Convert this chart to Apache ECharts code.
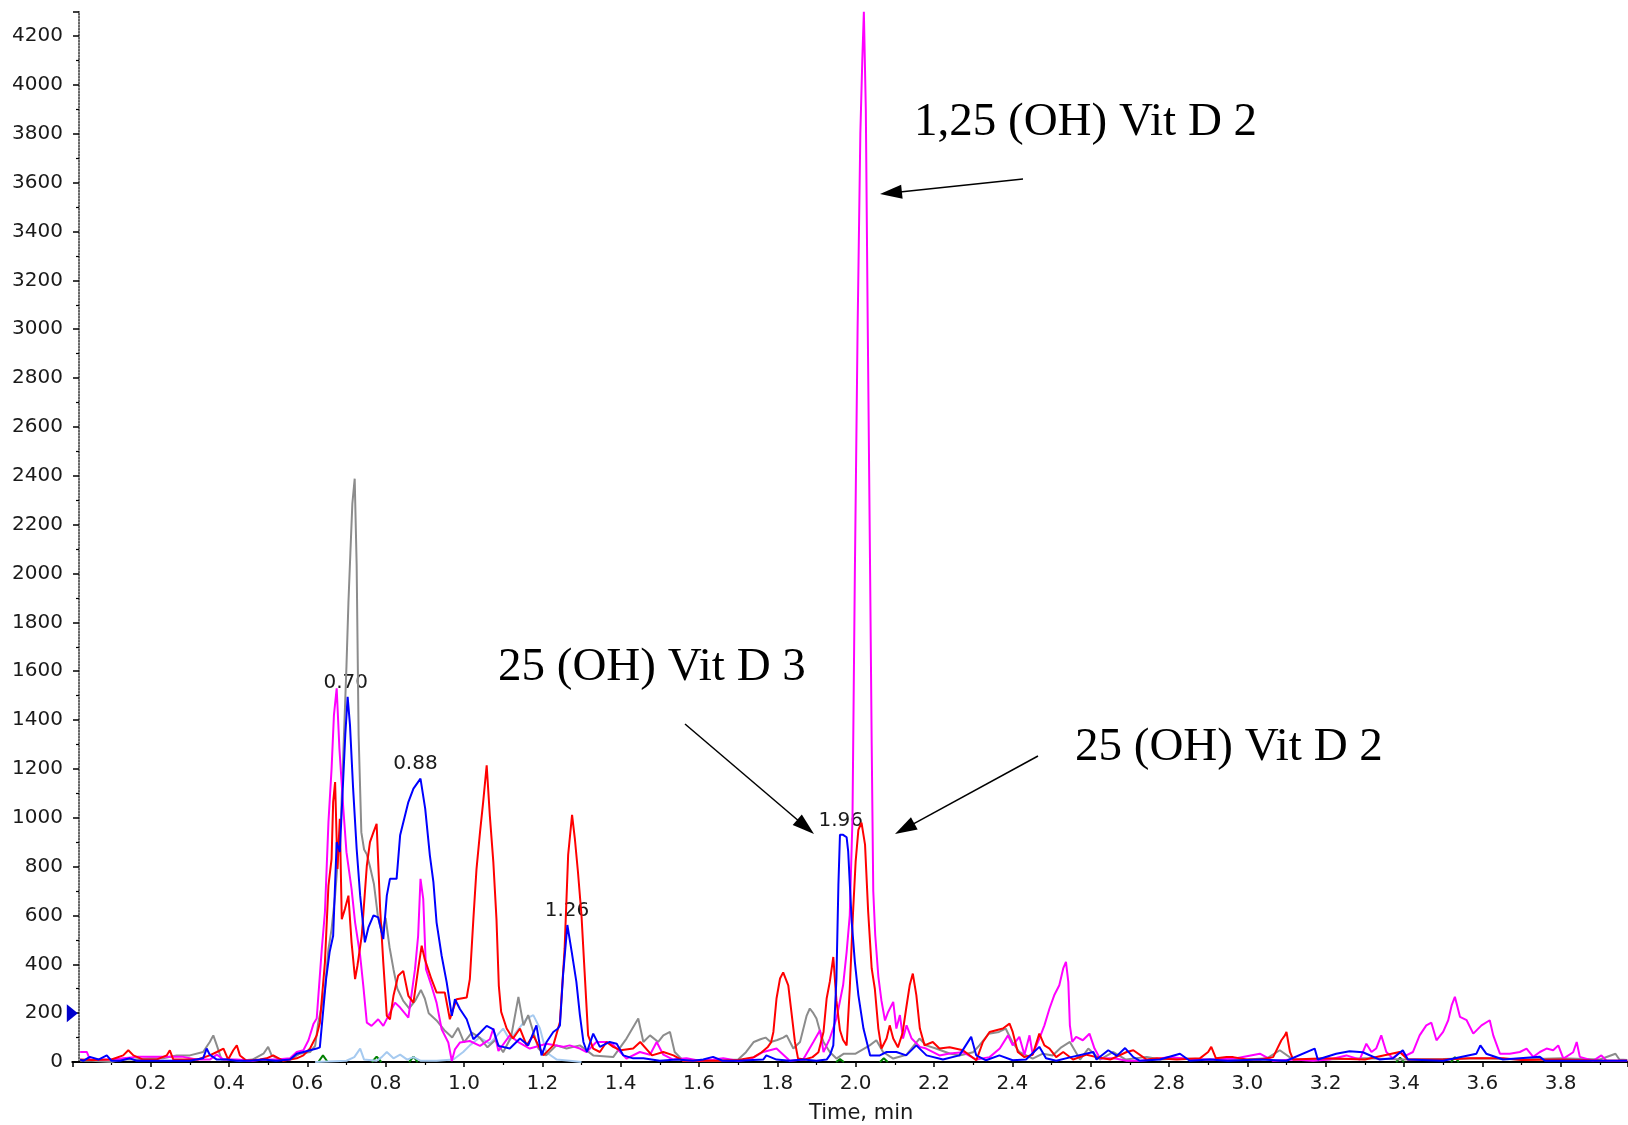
<!DOCTYPE html>
<html>
<head>
<meta charset="utf-8">
<script src="https://cdn.jsdelivr.net/npm/echarts@6/dist/echarts.min.js"></script>
<style>
  html, body { margin: 0; background: #fff; }
  #chart { width: 1628px; height: 1125px; }
</style>
</head>
<body>
<div id="chart"></div>
<script>
// traces, [time (min), intensity]
var grayTrace = [[0.02,5],[0.05,5],[0.1,0],[0.122,10],[0.16,10],[0.198,15],[0.232,15],[0.266,27],[0.3,27],[0.334,41],[0.351,82],[0.36,109],[0.369,68],[0.381,10],[0.403,10],[0.428,5],[0.46,10],[0.488,34],[0.5,62],[0.509,27],[0.53,10],[0.556,10],[0.581,34],[0.607,41],[0.62,66],[0.628,161],[0.637,230],[0.645,298],[0.654,462],[0.662,544],[0.671,681],[0.679,850],[0.686,1000],[0.693,1310],[0.7,1620],[0.705,1880],[0.71,2085],[0.715,2285],[0.721,2388],[0.726,2035],[0.731,1340],[0.738,940],[0.745,870],[0.752,850],[0.76,800],[0.77,730],[0.78,600],[0.79,530],[0.8,590],[0.81,470],[0.82,380],[0.83,300],[0.845,250],[0.86,220],[0.875,250],[0.89,295],[0.9,260],[0.91,200],[0.93,170],[0.95,130],[0.97,100],[0.985,140],[1.0,80],[1.02,120],[1.04,100],[1.06,60],[1.08,90],[1.1,40],[1.12,100],[1.139,266],[1.152,150],[1.164,192],[1.177,123],[1.19,55],[1.21,27],[1.236,68],[1.262,55],[1.296,68],[1.33,27],[1.381,20],[1.415,96],[1.445,178],[1.458,82],[1.475,109],[1.496,82],[1.509,109],[1.526,123],[1.538,41],[1.56,5],[1.6,5],[1.65,5],[1.7,10],[1.72,40],[1.74,82],[1.757,93],[1.77,100],[1.783,82],[1.8,90],[1.815,100],[1.824,109],[1.841,55],[1.858,82],[1.875,190],[1.883,219],[1.892,200],[1.9,178],[1.91,120],[1.918,82],[1.934,41],[1.951,14],[1.97,34],[2.0,34],[2.036,68],[2.053,89],[2.07,41],[2.096,14],[2.13,30],[2.163,96],[2.18,68],[2.205,55],[2.24,35],[2.265,27],[2.3,40],[2.316,68],[2.34,116],[2.366,123],[2.383,137],[2.4,82],[2.418,41],[2.452,14],[2.478,34],[2.503,27],[2.525,60],[2.547,82],[2.573,10],[2.594,55],[2.624,10],[2.658,41],[2.69,10],[2.743,21],[2.78,10],[2.83,15],[2.9,10],[2.95,12],[3.0,10],[3.05,15],[3.083,48],[3.117,10],[3.2,10],[3.3,15],[3.4,10],[3.5,12],[3.6,15],[3.7,10],[3.8,15],[3.9,10],[3.94,34],[3.95,10],[3.97,8]];

var redTrace = [[0.02,10],[0.05,8],[0.1,10],[0.13,27],[0.143,48],[0.156,27],[0.181,10],[0.215,10],[0.241,27],[0.249,48],[0.258,10],[0.283,10],[0.32,10],[0.351,27],[0.369,41],[0.386,55],[0.398,10],[0.411,48],[0.42,68],[0.428,27],[0.445,5],[0.479,10],[0.496,15],[0.513,27],[0.539,5],[0.573,15],[0.59,27],[0.607,55],[0.624,109],[0.632,160],[0.645,408],[0.654,722],[0.662,832],[0.666,1064],[0.671,1146],[0.677,790],[0.683,996],[0.688,585],[0.696,626],[0.705,681],[0.713,490],[0.722,339],[0.728,394],[0.739,517],[0.752,804],[0.76,900],[0.769,941],[0.777,975],[0.786,626],[0.794,408],[0.803,189],[0.811,175],[0.82,271],[0.832,353],[0.845,373],[0.858,271],[0.871,243],[0.883,380],[0.892,476],[0.9,421],[0.917,339],[0.93,285],[0.951,285],[0.964,175],[0.981,257],[1.007,264],[1.015,339],[1.024,585],[1.032,790],[1.041,941],[1.049,1064],[1.058,1215],[1.066,1010],[1.075,818],[1.083,585],[1.089,312],[1.095,205],[1.109,137],[1.125,96],[1.143,137],[1.16,68],[1.177,109],[1.203,27],[1.228,68],[1.245,164],[1.257,465],[1.266,848],[1.276,1012],[1.283,916],[1.291,779],[1.3,602],[1.308,369],[1.317,109],[1.33,55],[1.347,41],[1.364,82],[1.381,62],[1.4,48],[1.432,55],[1.45,82],[1.48,27],[1.509,41],[1.535,27],[1.56,5],[1.6,5],[1.65,5],[1.7,8],[1.74,20],[1.76,40],[1.775,60],[1.784,80],[1.79,123],[1.798,260],[1.807,342],[1.815,367],[1.828,314],[1.836,205],[1.845,82],[1.853,14],[1.87,10],[1.89,20],[1.905,40],[1.918,123],[1.926,260],[1.934,328],[1.943,430],[1.951,250],[1.96,130],[1.968,90],[1.977,68],[1.985,300],[1.993,600],[2.0,820],[2.007,950],[2.015,980],[2.024,890],[2.032,615],[2.041,383],[2.049,300],[2.058,137],[2.066,55],[2.079,96],[2.087,150],[2.096,96],[2.108,60],[2.12,120],[2.129,219],[2.138,314],[2.146,362],[2.155,274],[2.164,137],[2.176,68],[2.197,82],[2.214,55],[2.24,60],[2.274,48],[2.308,7],[2.325,82],[2.342,123],[2.359,130],[2.376,137],[2.393,157],[2.401,123],[2.414,41],[2.431,20],[2.452,30],[2.469,116],[2.482,68],[2.495,55],[2.512,20],[2.53,41],[2.555,10],[2.59,30],[2.615,20],[2.65,10],[2.692,41],[2.709,48],[2.743,10],[2.769,15],[2.82,10],[2.879,15],[2.9,41],[2.908,62],[2.92,15],[2.947,20],[2.964,20],[2.998,10],[3.032,10],[3.066,20],[3.087,89],[3.096,109],[3.1,123],[3.109,41],[3.117,10],[3.2,15],[3.3,10],[3.389,41],[3.41,10],[3.5,10],[3.568,15],[3.653,15],[3.7,8],[3.8,10],[3.9,5],[3.97,5]];

var blueTrace = [[0.02,10],[0.028,5],[0.045,21],[0.067,10],[0.088,27],[0.1,5],[0.122,5],[0.147,15],[0.164,5],[0.207,5],[0.249,5],[0.3,5],[0.334,15],[0.343,55],[0.351,30],[0.369,10],[0.394,10],[0.42,5],[0.454,5],[0.488,10],[0.52,5],[0.556,10],[0.573,34],[0.59,41],[0.607,48],[0.624,55],[0.632,60],[0.64,200],[0.648,340],[0.657,450],[0.666,517],[0.675,900],[0.683,860],[0.69,1100],[0.697,1340],[0.703,1495],[0.709,1379],[0.717,1119],[0.726,873],[0.735,681],[0.747,490],[0.756,551],[0.769,600],[0.781,592],[0.794,503],[0.803,681],[0.811,750],[0.828,750],[0.837,928],[0.858,1064],[0.871,1119],[0.889,1160],[0.901,1037],[0.913,845],[0.922,736],[0.93,572],[0.943,435],[0.956,325],[0.969,189],[0.977,257],[0.99,216],[1.007,175],[1.024,93],[1.041,120],[1.058,148],[1.075,134],[1.088,66],[1.092,62],[1.117,55],[1.143,96],[1.164,68],[1.185,150],[1.198,27],[1.211,82],[1.228,123],[1.24,137],[1.245,150],[1.253,356],[1.264,561],[1.275,452],[1.287,328],[1.296,192],[1.305,82],[1.314,41],[1.33,116],[1.347,62],[1.372,82],[1.39,75],[1.407,27],[1.432,15],[1.458,15],[1.5,5],[1.543,10],[1.585,5],[1.611,10],[1.636,21],[1.66,5],[1.7,5],[1.764,10],[1.772,27],[1.798,10],[1.832,5],[1.866,10],[1.9,5],[1.926,10],[1.935,30],[1.943,68],[1.951,342],[1.956,725],[1.96,930],[1.968,930],[1.977,920],[1.981,862],[1.99,574],[1.998,410],[2.007,274],[2.02,137],[2.037,27],[2.062,27],[2.079,41],[2.104,41],[2.129,27],[2.155,68],[2.181,27],[2.223,10],[2.265,27],[2.295,103],[2.308,27],[2.333,7],[2.367,27],[2.401,7],[2.435,10],[2.469,62],[2.486,15],[2.512,5],[2.55,20],[2.607,41],[2.615,10],[2.645,48],[2.667,25],[2.688,57],[2.709,20],[2.726,5],[2.777,10],[2.828,34],[2.853,5],[2.904,10],[2.95,5],[3.032,10],[3.1,5],[3.172,55],[3.18,10],[3.227,34],[3.261,44],[3.295,40],[3.338,10],[3.372,15],[3.397,48],[3.41,10],[3.5,5],[3.585,34],[3.595,68],[3.61,34],[3.653,10],[3.747,21],[3.76,5],[3.85,5],[3.97,5]];

var magentaTrace = [[0.02,41],[0.037,41],[0.045,10],[0.079,10],[0.105,10],[0.13,15],[0.164,21],[0.207,21],[0.249,21],[0.283,21],[0.317,10],[0.351,10],[0.369,30],[0.386,10],[0.42,10],[0.46,5],[0.488,10],[0.522,10],[0.556,15],[0.573,41],[0.59,48],[0.603,89],[0.616,157],[0.624,178],[0.637,462],[0.645,613],[0.654,982],[0.662,1201],[0.668,1420],[0.675,1530],[0.682,1283],[0.692,1037],[0.7,859],[0.713,709],[0.722,572],[0.735,435],[0.743,312],[0.752,161],[0.764,148],[0.781,175],[0.794,148],[0.807,189],[0.824,243],[0.837,223],[0.858,182],[0.875,380],[0.883,517],[0.889,750],[0.896,668],[0.903,380],[0.917,312],[0.93,243],[0.943,134],[0.96,80],[0.969,4],[0.977,52],[0.99,80],[1.015,86],[1.041,66],[1.066,93],[1.075,137],[1.088,45],[1.117,109],[1.14,80],[1.168,55],[1.211,75],[1.253,62],[1.27,68],[1.296,55],[1.313,41],[1.338,82],[1.364,82],[1.381,70],[1.415,14],[1.449,41],[1.475,30],[1.492,82],[1.509,30],[1.534,10],[1.568,15],[1.602,5],[1.636,10],[1.662,15],[1.7,5],[1.73,10],[1.764,41],[1.798,55],[1.832,5],[1.866,10],[1.892,82],[1.909,130],[1.918,41],[1.934,96],[1.951,178],[1.96,250],[1.968,314],[1.977,450],[1.985,600],[1.992,1000],[1.998,2000],[2.005,3000],[2.012,3800],[2.017,4100],[2.021,4300],[2.026,3900],[2.031,3000],[2.037,2000],[2.041,1300],[2.045,700],[2.05,520],[2.058,350],[2.066,250],[2.075,170],[2.083,205],[2.096,246],[2.104,137],[2.113,192],[2.121,96],[2.13,150],[2.143,96],[2.164,62],[2.18,55],[2.214,27],[2.24,35],[2.274,40],[2.308,10],[2.342,20],[2.368,55],[2.389,109],[2.401,68],[2.418,103],[2.431,30],[2.444,109],[2.452,30],[2.469,96],[2.482,150],[2.495,219],[2.507,273],[2.52,314],[2.53,383],[2.537,410],[2.543,328],[2.547,150],[2.553,82],[2.563,103],[2.58,89],[2.597,116],[2.61,55],[2.624,14],[2.66,15],[2.692,5],[2.726,5],[2.76,10],[2.802,21],[2.862,10],[2.92,10],[2.972,15],[3.032,34],[3.066,5],[3.117,10],[3.168,5],[3.21,10],[3.253,27],[3.287,10],[3.304,75],[3.317,41],[3.329,55],[3.342,109],[3.355,41],[3.372,14],[3.389,41],[3.406,27],[3.423,41],[3.44,109],[3.457,150],[3.47,161],[3.483,89],[3.5,123],[3.513,171],[3.522,233],[3.53,267],[3.543,185],[3.56,171],[3.577,116],[3.598,150],[3.619,171],[3.628,109],[3.645,34],[3.67,34],[3.696,41],[3.713,55],[3.73,21],[3.747,41],[3.764,55],[3.781,48],[3.794,68],[3.807,14],[3.832,40],[3.841,82],[3.849,21],[3.883,5],[3.904,27],[3.917,5],[3.97,5]];

var lightBlueTrace = [[0.62,0],[0.7,5],[0.72,20],[0.735,55],[0.745,10],[0.777,5],[0.79,20],[0.803,41],[0.82,15],[0.837,30],[0.855,10],[0.871,20],[0.89,5],[0.93,5],[0.973,10],[0.998,41],[1.015,68],[1.04,100],[1.066,75],[1.1,137],[1.117,90],[1.14,137],[1.16,178],[1.177,192],[1.194,137],[1.21,40],[1.237,10],[1.27,5],[1.3,0]];

var greenTrace = [[0.628,0],[0.64,27],[0.652,0],'-',[0.765,0],[0.777,22],[0.789,0],'-',[0.86,0],[0.871,22],[0.882,0],'-',[1.95,0],[1.96,12],[1.97,0],'-',[2.062,0],[2.072,15],[2.082,0],'-',[3.38,0],[3.39,18],[3.40,0],'-',[3.52,0],[3.53,20],[3.54,0]];

// retention times labelled above the blue peaks
var peakTimes = [0.70, 0.88, 1.26, 1.96];
var peakLabelX = [0.698, 0.876, 1.263, 1.962];
var peakHeights = [1495, 1160, 561, 930];

var chart = echarts.init(document.getElementById('chart'));

function trace(name, color, data, z) {
  return {
    name: name,
    type: 'line',
    data: data,
    symbol: 'none',
    z: z,
    lineStyle: { color: color, width: 2 },
    itemStyle: { color: color }
  };
}

var labelFont = { fontFamily: 'DejaVu Sans', fontSize: 20, color: '#1a1a1a' };

var blue = trace('blue', '#0000ff', blueTrace, 8);
blue.markPoint = {
  silent: true,
  symbol: 'circle',
  symbolSize: 1,
  itemStyle: { color: 'rgba(0,0,0,0)' },
  label: Object.assign({ show: true, position: 'top', distance: 4, formatter: function (p) { return p.name; } }, labelFont),
  data: peakTimes.map(function (t, i) {
    return { name: t.toFixed(2), coord: [peakLabelX[i], peakHeights[i]] };
  }).concat([{
    name: 'marker', coord: [0, 200], symbol: 'triangle', symbolSize: [18, 11], symbolRotate: -90,
    itemStyle: { color: '#0000cc' }, label: { show: false }
  }])
};

var option = {
  animation: false,
  backgroundColor: '#fff',
  grid: { left: 72.3, right: 0, top: 11.7, bottom: 63, containLabel: false, outerBoundsMode: 'none' },
  xAxis: {
    type: 'value',
    min: 0,
    max: 3.972,
    interval: 0.2,
    name: 'Time, min',
    nameLocation: 'middle',
    nameGap: 41,
    nameTextStyle: { fontFamily: 'DejaVu Sans', fontSize: 21, color: '#1a1a1a', padding: [0, 0, 0, 22] },
    axisLine: { lineStyle: { color: '#000', width: 2 } },
    axisTick: { length: 5, lineStyle: { color: '#000', width: 1.5 } },
    minorTick: { show: true, splitNumber: 2, length: 3, lineStyle: { color: '#000', width: 1.2 } },
    splitLine: { show: false },
    axisLabel: Object.assign({ margin: 12, showMinLabel: false, showMaxLabel: false,
      formatter: function (v) { return v.toFixed(1); } }, labelFont)
  },
  yAxis: {
    type: 'value',
    min: 0,
    max: 4300,
    interval: 200,
    offset: -6.7,
    axisLine: { show: true, lineStyle: { color: '#333', width: 1.5, type: 'dotted' } },
    axisTick: { show: true, length: 6, lineStyle: { color: '#000', width: 1.5 } },
    minorTick: { show: true, splitNumber: 2, length: 3, lineStyle: { color: '#000', width: 1.2 } },
    splitLine: { show: false },
    axisLabel: Object.assign({ margin: 16, showMaxLabel: false,
      formatter: function (v) { return String(v); } }, labelFont)
  },
  series: [
    trace('green', '#008000', greenTrace, 3),
    trace('lightblue', '#a6caf0', lightBlueTrace, 4),
    trace('gray', '#8c8c8c', grayTrace, 5),
    trace('magenta', '#ff00ff', magentaTrace, 6),
    trace('red', '#ff0000', redTrace, 7),
    blue
  ]
};
chart.setOption(option);

// annotations: arrows and compound names
function arrow(x1, y1, x2, y2) {
  var dx = x2 - x1, dy = y2 - y1, L = Math.sqrt(dx * dx + dy * dy);
  var ux = dx / L, uy = dy / L, hl = 22, hw = 7;
  var bx = x2 - ux * hl, by = y2 - uy * hl;
  return [
    { type: 'line', z: 100, shape: { x1: x1, y1: y1, x2: bx + ux * 2, y2: by + uy * 2 }, style: { stroke: '#000', lineWidth: 1.5 } },
    { type: 'polygon', z: 100, shape: { points: [[x2, y2], [bx - uy * hw, by + ux * hw], [bx + uy * hw, by - ux * hw]] }, style: { fill: '#000' } }
  ];
}
function note(text, x, y) {
  return { type: 'text', z: 100, style: { text: text, x: x, y: y, fill: '#000',
    font: '47px "Liberation Serif", "Times New Roman", serif', align: 'left', verticalAlign: 'middle' } };
}
chart.setOption({
  graphic: [
    note('1,25 (OH) Vit D 2', 914, 123),
    note('25 (OH) Vit D 3', 498, 668),
    note('25 (OH) Vit D 2', 1075, 748)
  ].concat(arrow(1023, 179, 880, 194), arrow(685, 724, 814, 834), arrow(1038, 756, 895, 834))
});
</script>
</body>
</html>
